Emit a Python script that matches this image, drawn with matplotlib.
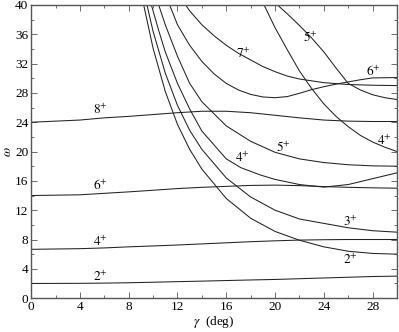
import matplotlib
matplotlib.use("Agg")
import matplotlib.pyplot as plt
from matplotlib.ticker import MultipleLocator

plt.rcParams["font.family"] = ["Liberation Serif", "DejaVu Serif"]
plt.rcParams["mathtext.fontset"] = "stix"

# ground band
g_x = [0, 4, 6, 8, 10, 12, 14, 16, 18, 20, 22, 24, 26, 28, 30]
g2 = [2.0, 2.02, 2.05, 2.1, 2.17, 2.25, 2.32, 2.4, 2.48, 2.55, 2.65, 2.75, 2.85, 2.95, 3.0]
g4 = [6.66, 6.75, 6.85, 7.0, 7.12, 7.25, 7.4, 7.55, 7.7, 7.82, 7.92, 7.97, 8.0, 8.0, 8.0]
g6 = [14.0, 14.1, 14.3, 14.5, 14.72, 14.95, 15.12, 15.25, 15.38, 15.42, 15.35, 15.22, 15.12, 15.05, 15.0]
g8 = [24.0, 24.3, 24.6, 24.8, 25.05, 25.3, 25.5, 25.5, 25.3, 24.95, 24.6, 24.3, 24.15, 24.1, 24.1]

# steep bands: (x, omega) pairs
b2_x = [9.23, 10, 11, 12, 13, 14, 16, 18, 20, 22, 24, 26, 28, 30]
b2_y = [40, 34.1, 28.2, 23.7, 20.3, 17.6, 13.6, 10.9, 9.1, 7.9, 7.0, 6.4, 6.1, 6.0]
b3_x = [9.5, 10, 11, 12, 13, 14, 16, 18, 20, 22, 24, 26, 28, 30]
b3_y = [40, 36.4, 30.7, 26.3, 22.9, 20.3, 16.4, 13.8, 12.0, 10.8, 10.2, 9.6, 9.2, 9.0]
b4_x = [9.86, 10.5, 11, 12, 13, 14, 16, 17.2, 18.8, 20, 22, 24, 26, 28, 30]
b4_y = [40, 36.3, 33.6, 29.3, 25.8, 22.8, 19.0, 17.8, 16.8, 16.2, 15.5, 15.15, 15.5, 16.3, 17.1]
b5_x = [10.46, 11, 12, 13, 14, 16, 18, 20, 22, 24, 26, 28, 30]
b5_y = [40, 37.3, 33.0, 29.3, 26.8, 23.5, 21.4, 19.9, 19.0, 18.5, 18.2, 18.05, 18.0]
b6_x = [11.36, 12, 13, 14, 15, 16, 17, 18, 19, 20, 21, 22, 23, 24, 25, 26, 27, 28, 30]
b6_y = [40, 37.3, 34.5, 32.3, 30.6, 29.3, 28.4, 27.8, 27.45, 27.35, 27.5, 27.95, 28.45, 28.85, 29.2, 29.5, 29.8, 30.05, 30.1]
b7_x = [12.67, 13, 14, 15, 16, 17, 18, 19, 20, 21, 22, 24, 26, 28, 30]
b7_y = [40, 39.2, 37.3, 35.8, 34.5, 33.4, 32.5, 31.6, 30.9, 30.3, 29.9, 29.4, 29.15, 29.05, 29.0]
c4_x = [19.1, 20, 21, 22, 23, 24, 25, 26, 27, 28, 29, 30]
c4_y = [40, 36.9, 33.9, 31.0, 28.6, 26.5, 24.8, 23.4, 22.2, 21.3, 20.6, 20.0]
c5_x = [20.2, 21, 22, 23, 24, 25, 26, 27, 28, 29, 30]
c5_y = [40, 38.8, 37.2, 35.5, 33.6, 31.4, 29.3, 28.4, 27.75, 27.35, 27.1]

curves = [
    (g_x, g2), (g_x, g4), (g_x, g6), (g_x, g8),
    (b2_x, b2_y), (b3_x, b3_y), (b4_x, b4_y), (b5_x, b5_y),
    (b6_x, b6_y), (b7_x, b7_y), (c4_x, c4_y), (c5_x, c5_y),
]

# labels: text, x, y
labels = [
    ("2", 5.7, 2.9), ("4", 5.7, 7.7), ("6", 5.7, 15.3), ("8", 5.7, 25.7),
    ("2", 26.2, 5.2), ("3", 26.2, 10.4), ("4", 17.3, 19.2), ("5", 20.7, 20.5),
    ("4", 29.0, 21.4), ("6", 28.1, 30.9), ("7", 17.4, 33.3), ("5", 22.9, 35.5),
]

fig = plt.figure(figsize=(3.99, 3.32), dpi=100)
ax = fig.add_axes([0.078, 0.102, 0.917, 0.883])

for xs, ys in curves:
    ax.plot(xs, ys, color="#222222", lw=0.75)

for txt, x, y in labels:
    ax.text(x, y, r"$%s^{+}$" % txt, fontsize=9.5, ha="center", va="center")

ax.set_xlim(0, 30)
ax.set_ylim(0, 40)
ax.xaxis.set_major_locator(MultipleLocator(4))
ax.xaxis.set_minor_locator(MultipleLocator(2))
ax.yaxis.set_major_locator(MultipleLocator(4))
ax.yaxis.set_minor_locator(MultipleLocator(2))
ax.tick_params(which="both", direction="in", top=True, right=True,
               color="#555555", labelsize=9.5, pad=2)
ax.tick_params(which="major", length=4, width=0.6)
ax.tick_params(which="minor", length=2, width=0.6)
for s in ax.spines.values():
    s.set_color("#555555")
    s.set_linewidth(1.0)

ax.set_xlabel(r"$\gamma$  (deg)", fontsize=9.5, labelpad=1)
ax.set_ylabel(r"$\omega$", fontsize=9.5, labelpad=1)

fig.savefig("out.png", dpi=100)
